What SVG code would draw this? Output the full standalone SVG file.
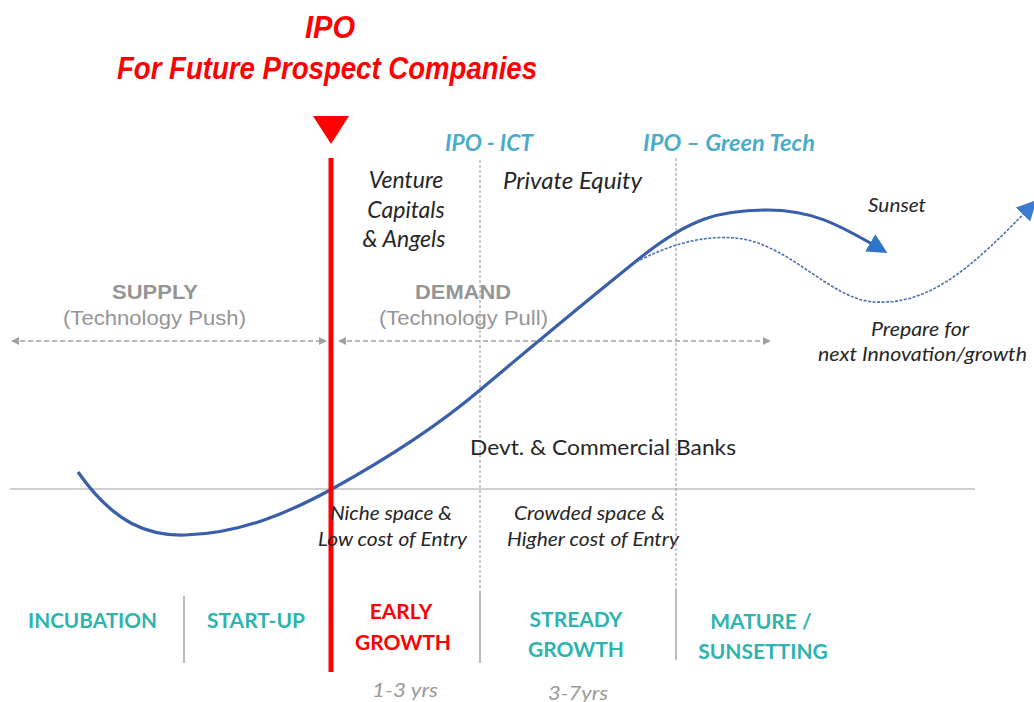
<svg xmlns="http://www.w3.org/2000/svg" width="1034" height="702" viewBox="0 0 1034 702">
<defs>
<style>
.title{font-family:"Liberation Sans",Arial,sans-serif;font-weight:bold;font-style:italic;fill:#FF0000;font-size:32px}
.cal{font-family:Lato,"Open Sans",sans-serif;fill:#262626}
.it{font-style:italic}
.ipo{font-family:Lato,"Open Sans",sans-serif;font-weight:bold;font-style:italic;fill:#4BACC6;font-size:23px}
.gray{font-family:"Liberation Sans",Arial,sans-serif;fill:#959595}
.stage{font-family:Lato,"Open Sans",sans-serif;font-weight:bold;fill:#2FB3AE;font-size:21px}
.yrs{font-family:Lato,"Open Sans",sans-serif;font-style:italic;fill:#9A9A9A;font-size:20px}
.dashv{stroke:#A6A6A6;stroke-width:1.2;stroke-dasharray:3 2;fill:none}
.solidv{stroke:#A6A6A6;stroke-width:1.5;fill:none}
.garrow{stroke:#A0A0A0;stroke-width:1.6;stroke-dasharray:5 3;fill:none}
</style>
<marker id="ga" viewBox="0 0 10 10" refX="9" refY="5" markerWidth="8" markerHeight="8" markerUnits="userSpaceOnUse" orient="auto-start-reverse">
<path d="M0,0 L10,5 L0,10 z" fill="#A0A0A0"/>
</marker>
<marker id="ba" viewBox="0 0 10 10" refX="8" refY="5" markerWidth="20" markerHeight="20" markerUnits="userSpaceOnUse" orient="auto">
<path d="M0,0 L10,5 L0,10 z" fill="#2E75C8"/>
</marker>
<marker id="ba2" viewBox="0 0 10 10" refX="8" refY="5" markerWidth="20" markerHeight="20" markerUnits="userSpaceOnUse" orient="auto">
<path d="M0,0 L10,5 L0,10 z" fill="#3D7BCF"/>
</marker>
</defs>
<rect width="1034" height="702" fill="#FFFFFF"/>

<g id="title">
<text class="title" x="330" y="38" text-anchor="middle" textLength="50" lengthAdjust="spacingAndGlyphs">IPO</text>
<text class="title" x="117" y="79" textLength="420" lengthAdjust="spacingAndGlyphs">For Future Prospect Companies</text>
</g>

<g id="grid">
<line x1="10" y1="489" x2="975" y2="489" stroke="#BFBFBF" stroke-width="1.5"/>
<line class="dashv" x1="480" y1="160" x2="480" y2="592"/>
<line class="solidv" x1="480" y1="592" x2="480" y2="663"/>
<line class="dashv" x1="676" y1="158" x2="676" y2="590"/>
<line class="solidv" x1="676" y1="590" x2="676" y2="660"/>
<line class="solidv" x1="184" y1="596" x2="184" y2="663"/>
</g>

<g id="connectors">
<line class="garrow" x1="12" y1="341" x2="326" y2="341" marker-start="url(#ga)" marker-end="url(#ga)"/>
<line class="garrow" x1="339" y1="341" x2="770" y2="341" marker-start="url(#ga)" marker-end="url(#ga)"/>
<path d="M78,472 C115,525 150,536 185,535 C240,534 290,512 332,489 C390,457 440,424 480,390 C530,348 590,298 640,258 C690,218 720,210 767,210 C810,210 835,222 884,251" fill="none" stroke="#3A5FAA" stroke-width="3.2" marker-end="url(#ba)"/>
<path d="M640,260 C680,240 710,236 735,238 C790,243 830,300 875,302 C930,305 972,268 1034,203" fill="none" stroke="#4A6FB5" stroke-width="1.6" stroke-dasharray="3 1.5" marker-end="url(#ba2)"/>
</g>

<g id="ipo-marker">
<polygon points="313,116 349,116 331,144" fill="#FF0000"/>
<line x1="331" y1="158" x2="331" y2="672" stroke="#FF0000" stroke-width="5"/>
</g>

<g id="ipo-labels">
<text class="ipo" x="445" y="151" textLength="88" lengthAdjust="spacingAndGlyphs">IPO - ICT</text>
<text class="ipo" x="643" y="151" textLength="172" lengthAdjust="spacingAndGlyphs">IPO – Green Tech</text>
</g>

<g id="financing">
<text class="cal it" font-size="23" text-anchor="middle"><tspan x="406" y="188">Venture</tspan><tspan x="406" y="218">Capitals</tspan><tspan x="404" y="247">&amp; Angels</tspan></text>
<text class="cal it" font-size="23" x="503" y="189" textLength="139" lengthAdjust="spacingAndGlyphs">Private Equity</text>
<text class="cal" font-size="22" x="470" y="455" textLength="266" lengthAdjust="spacingAndGlyphs">Devt. &amp; Commercial Banks</text>
</g>

<g id="sunset">
<text class="cal it" font-size="19" x="868" y="212" textLength="58" lengthAdjust="spacingAndGlyphs">Sunset</text>
<text class="cal it" font-size="20" x="871" y="336" textLength="98" lengthAdjust="spacingAndGlyphs">Prepare for</text>
<text class="cal it" font-size="20" x="818" y="361" textLength="209" lengthAdjust="spacingAndGlyphs">next Innovation/growth</text>
</g>

<g id="supply">
<text class="gray" font-weight="bold" font-size="21" x="112" y="299" textLength="86" lengthAdjust="spacingAndGlyphs">SUPPLY</text>
<text class="gray" font-size="21" x="63" y="325" textLength="183" lengthAdjust="spacingAndGlyphs">(Technology Push)</text>
</g>
<g id="demand">
<text class="gray" font-weight="bold" font-size="21" x="415" y="299" textLength="96" lengthAdjust="spacingAndGlyphs">DEMAND</text>
<text class="gray" font-size="21" x="379" y="325" textLength="169" lengthAdjust="spacingAndGlyphs">(Technology Pull)</text>
</g>

<g id="entry">
<text class="cal it" font-size="20" x="330" y="520" textLength="122" lengthAdjust="spacingAndGlyphs">Niche space &amp;</text>
<text class="cal it" font-size="20" x="318" y="546" textLength="149" lengthAdjust="spacingAndGlyphs">Low cost of Entry</text>
<text class="cal it" font-size="20" x="514" y="520" textLength="151" lengthAdjust="spacingAndGlyphs">Crowded space &amp;</text>
<text class="cal it" font-size="20" x="507" y="546" textLength="172" lengthAdjust="spacingAndGlyphs">Higher cost of Entry</text>
</g>

<g id="stage-incubation"><text class="stage" x="28" y="628" textLength="129" lengthAdjust="spacingAndGlyphs">INCUBATION</text></g>
<g id="stage-startup"><text class="stage" x="207" y="628" textLength="98" lengthAdjust="spacingAndGlyphs">START-UP</text></g>
<g id="stage-early"><text class="stage" style="fill:#FF0000" text-anchor="middle"><tspan x="401" y="619">EARLY</tspan><tspan x="403" y="650">GROWTH</tspan></text></g>
<g id="stage-steady"><text class="stage" text-anchor="middle"><tspan x="576" y="627">STREADY</tspan><tspan x="576" y="657">GROWTH</tspan></text></g>
<g id="stage-mature"><text class="stage" text-anchor="middle"><tspan x="761" y="629">MATURE /</tspan><tspan x="763" y="659">SUNSETTING</tspan></text></g>

<g id="years">
<text class="yrs" x="372" y="697" textLength="66" lengthAdjust="spacingAndGlyphs">1-3 yrs</text>
<text class="yrs" x="548" y="700" textLength="60" lengthAdjust="spacingAndGlyphs">3-7yrs</text>
</g>
</svg>
